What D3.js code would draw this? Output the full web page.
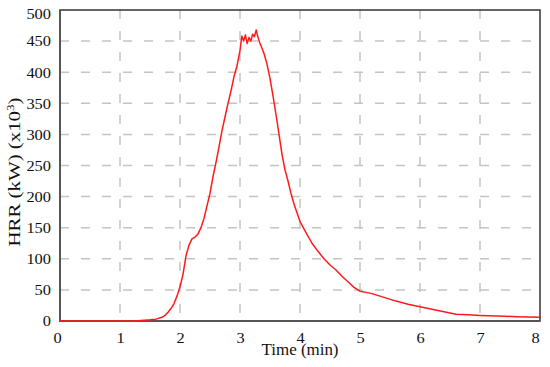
<!DOCTYPE html>
<html>
<head>
<meta charset="utf-8">
<script src="https://cdn.jsdelivr.net/npm/d3@7"></script>
<style>
  body { margin: 0; background: #fff; }
  svg text { font-family: "Liberation Serif", "Times New Roman", serif; fill: #111; }
</style>
</head>
<body>
<div id="chart"></div>
<script>
// time (min) and heat release rate (kW x10^3)
const timeMin = [0, 0.5, 1.0, 1.3, 1.5, 1.6, 1.7, 1.75, 1.8, 1.85, 1.9, 1.95, 2.0, 2.05, 2.1, 2.15,
  2.2, 2.25, 2.3, 2.35, 2.4, 2.45, 2.5, 2.55, 2.6, 2.65, 2.7, 2.75, 2.8, 2.85, 2.9, 2.95, 3.0,
  3.03, 3.06, 3.09, 3.12, 3.15, 3.18, 3.21, 3.24, 3.27, 3.3, 3.33, 3.36, 3.4, 3.45, 3.5, 3.55,
  3.6, 3.65, 3.7, 3.75, 3.8, 3.85, 3.9, 3.95, 4.0, 4.1, 4.2, 4.3, 4.4, 4.5, 4.6, 4.7, 4.8, 4.9,
  5.0, 5.1, 5.2, 5.4, 5.6, 5.8, 6.0, 6.2, 6.4, 6.6, 6.8, 7.0, 7.3, 7.6, 8.0];
const hrr = [0, 0, 0, 0.5, 2, 3, 6, 9, 14, 20, 28, 40, 55, 75, 105, 122,
  132, 135, 140, 150, 165, 185, 205, 232, 255, 280, 306, 328, 350, 370, 393, 410, 435,
  458, 450, 460, 446, 456, 450, 461, 457, 468, 456, 447, 440, 430, 413, 390, 362,
  332, 300, 268, 243, 225, 205, 188, 174, 160, 142, 125, 112, 100, 90, 82, 72, 63, 54,
  48, 46, 44, 38, 32, 27, 23, 19, 15, 11, 10, 9, 8, 7, 6];
const xTicks = [0, 1, 2, 3, 4, 5, 6, 7, 8];
const yTicks = [0, 50, 100, 150, 200, 250, 300, 350, 400, 450, 500];

const width = 550, height = 367;
const margin = {top: 10, right: 10, bottom: 46, left: 60};
const w = width - margin.left - margin.right,
      h = height - margin.top - margin.bottom;
const serif = '"Liberation Serif", "Times New Roman", serif';

const svg = d3.select('#chart').append('svg')
  .attr('width', width)
  .attr('height', height);

const chart = svg.append('g')
  .attr('transform', `translate(${margin.left},${margin.top})`);

const x = d3.scaleLinear([0, 8], [0, w]);
const y = d3.scaleLinear([0, 500], [h, 0]);

// dashed grid
chart.append('g')
  .selectAll('line')
  .data(xTicks.slice(1, -1))
  .join('line')
  .attr('x1', d => x(d)).attr('x2', d => x(d))
  .attr('y1', 0).attr('y2', h)
  .attr('stroke', '#c4c4c4').attr('stroke-width', 1.5)
  .attr('stroke-dasharray', '9,12');

chart.append('g')
  .selectAll('line')
  .data(yTicks.slice(1, -1))
  .join('line')
  .attr('x1', 0).attr('x2', w)
  .attr('y1', d => y(d)).attr('y2', d => y(d))
  .attr('stroke', '#c4c4c4').attr('stroke-width', 1.5)
  .attr('stroke-dasharray', '9,12');

// axes (labels only, frame drawn below)
const axisX = chart.append('g')
  .attr('transform', `translate(0,${h})`)
  .call(d3.axisBottom(x).tickValues(xTicks).tickSize(0).tickPadding(11));
const axisY = chart.append('g')
  .call(d3.axisLeft(y).tickValues(yTicks).tickSize(0).tickPadding(9));

[axisX, axisY].forEach(a => {
  a.attr('font-family', serif).attr('font-size', 15);
  a.select('.domain').remove();
  a.selectAll('text')
    .attr('font-family', serif)
    .attr('fill', '#111')
    .attr('textLength', function() { return this.textContent.length * 8.2; })
    .attr('lengthAdjust', 'spacingAndGlyphs');
});
axisX.selectAll('.tick').filter(d => d === 0).select('text').attr('x', -3);
axisX.selectAll('.tick').filter(d => d === 8).select('text').attr('x', -5);
axisY.selectAll('.tick').filter(d => d === 500).select('text').attr('y', 4);

// frame
chart.append('rect')
  .attr('width', w).attr('height', h)
  .attr('fill', 'none')
  .attr('stroke', '#333').attr('stroke-width', 1.5);
chart.append('path')
  .attr('d', `M0,0V${h}H${w}`)
  .attr('fill', 'none')
  .attr('stroke', '#555').attr('stroke-width', 2);

// curve
const line = d3.line()
  .x((d, i) => x(timeMin[i]))
  .y(d => y(d));

chart.append('path')
  .datum(hrr)
  .attr('d', line)
  .attr('fill', 'none')
  .attr('stroke', '#ff1a1a')
  .attr('stroke-width', 1.5)
  .attr('stroke-linejoin', 'round');

// axis titles
svg.append('text')
  .attr('x', margin.left + w / 2)
  .attr('y', 355)
  .attr('text-anchor', 'middle')
  .attr('font-family', serif)
  .attr('font-size', 16)
  .attr('textLength', 77)
  .attr('lengthAdjust', 'spacingAndGlyphs')
  .text('Time (min)');

const yl = svg.append('text')
  .attr('transform', `translate(20,172)rotate(-90)`)
  .attr('text-anchor', 'middle')
  .attr('font-family', serif)
  .attr('font-size', 16)
  .attr('textLength', 149)
  .attr('lengthAdjust', 'spacingAndGlyphs');
yl.append('tspan').text('HRR (kW) (x10');
yl.append('tspan').attr('dy', -6).attr('font-size', 10).text('3');
yl.append('tspan').attr('dy', 6).text(')');
</script>
</body>
</html>
